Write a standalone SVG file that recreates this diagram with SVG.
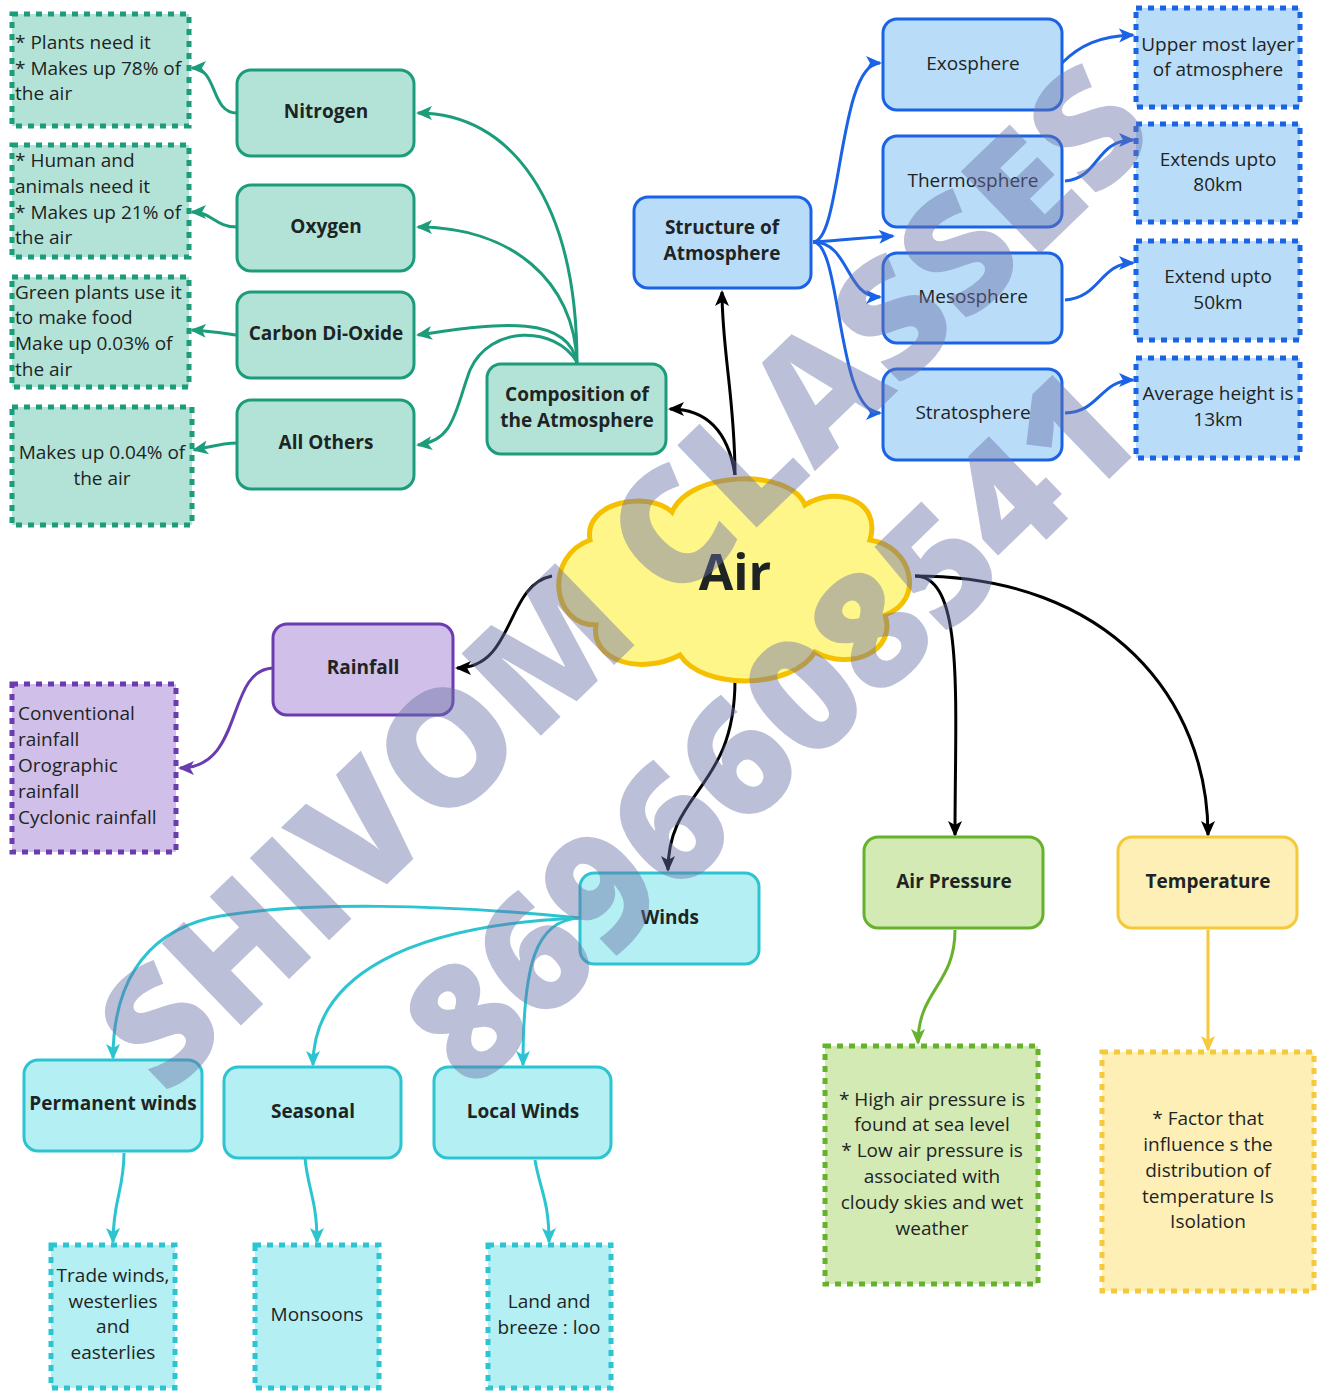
<svg xmlns="http://www.w3.org/2000/svg" width="1319" height="1391" viewBox="0 0 1319 1391">
<style>
text{font-family:"Open Sans","Noto Sans","Liberation Sans",sans-serif;fill:#1e2424}
.b{font-weight:700;font-size:19px;text-anchor:middle}
.n{font-size:19px;text-anchor:middle}
.l{font-size:19px}
.teal{fill:#b3e3d7;stroke:#1d9c7b;stroke-width:3}
.blue{fill:#b9dcf8;stroke:#1a62e6;stroke-width:3}
.purp{fill:#d0bfe8;stroke:#6a3cb0;stroke-width:3}
.cyan{fill:#b4eff3;stroke:#2cc4d1;stroke-width:3}
.lime{fill:#d3eab5;stroke:#66b22c;stroke-width:3}
.yel{fill:#fdefb6;stroke:#f5c93a;stroke-width:3}
.dt{stroke-width:5;stroke-dasharray:6 6}
.c{fill:none;stroke-width:3}
.wm{font-family:"Open Sans","Liberation Sans",sans-serif;font-weight:800;font-size:160px;fill:#6a72a8;fill-opacity:0.45;text-anchor:middle}
</style>
<defs>
<marker id="mk" markerUnits="userSpaceOnUse" markerWidth="16" markerHeight="16" refX="14" refY="8" orient="auto"><path d="M0,1 L16,8 L0,15 L4,8 z" fill="#000"/></marker>
<marker id="mt" markerUnits="userSpaceOnUse" markerWidth="16" markerHeight="16" refX="14" refY="8" orient="auto"><path d="M0,1 L16,8 L0,15 L4,8 z" fill="#1d9c7b"/></marker>
<marker id="mb" markerUnits="userSpaceOnUse" markerWidth="16" markerHeight="16" refX="14" refY="8" orient="auto"><path d="M0,1 L16,8 L0,15 L4,8 z" fill="#1a62e6"/></marker>
<marker id="mp" markerUnits="userSpaceOnUse" markerWidth="16" markerHeight="16" refX="14" refY="8" orient="auto"><path d="M0,1 L16,8 L0,15 L4,8 z" fill="#6a3cb0"/></marker>
<marker id="mc" markerUnits="userSpaceOnUse" markerWidth="16" markerHeight="16" refX="14" refY="8" orient="auto"><path d="M0,1 L16,8 L0,15 L4,8 z" fill="#2cc4d1"/></marker>
<marker id="ml" markerUnits="userSpaceOnUse" markerWidth="16" markerHeight="16" refX="14" refY="8" orient="auto"><path d="M0,1 L16,8 L0,15 L4,8 z" fill="#66b22c"/></marker>
<marker id="my" markerUnits="userSpaceOnUse" markerWidth="16" markerHeight="16" refX="14" refY="8" orient="auto"><path d="M0,1 L16,8 L0,15 L4,8 z" fill="#f5c93a"/></marker>
</defs>
<rect width="1319" height="1391" fill="#fff"/>

<g id="connectors">
<path class="c" stroke="#1d9c7b" d="M577,364 C577,200 510,113 418,113" marker-end="url(#mt)"/>
<path class="c" stroke="#1d9c7b" d="M577,364 C575,280 510,227 418,227" marker-end="url(#mt)"/>
<path class="c" stroke="#1d9c7b" d="M577,364 C570,315 500,322 418,335" marker-end="url(#mt)"/>
<path class="c" stroke="#1d9c7b" d="M577,362 C555,325 490,325 470,370 C455,410 455,440 418,445" marker-end="url(#mt)"/>
<path class="c" stroke="#1d9c7b" d="M237,113 C210,113 218,68 192,68" marker-end="url(#mt)"/>
<path class="c" stroke="#1d9c7b" d="M237,227 C215,227 212,212 192,212" marker-end="url(#mt)"/>
<path class="c" stroke="#1d9c7b" d="M237,335 C222,333 210,331 192,330" marker-end="url(#mt)"/>
<path class="c" stroke="#1d9c7b" d="M237,443 C222,443 210,447 194,450" marker-end="url(#mt)"/>

<path class="c" stroke="#000" d="M735,475 C735,400 722,350 722,292" marker-end="url(#mk)"/>
<path class="c" stroke="#000" d="M735,475 C728,430 705,409 670,409" marker-end="url(#mk)"/>
<path class="c" stroke="#000" d="M552,576 C505,585 515,668 457,668" marker-end="url(#mk)"/>
<path class="c" stroke="#000" d="M735,680 C735,790 668,790 668,870" marker-end="url(#mk)"/>
<path class="c" stroke="#000" d="M915,576 C965,576 955,700 955,835" marker-end="url(#mk)"/>
<path class="c" stroke="#000" d="M915,576 C1110,576 1208,700 1208,835" marker-end="url(#mk)"/>

<path class="c" stroke="#1a62e6" d="M813,242 C842,242 838,63 880,63" marker-end="url(#mb)"/>
<path class="c" stroke="#1a62e6" d="M813,242 C840,240 860,238 893,236" marker-end="url(#mb)"/>
<path class="c" stroke="#1a62e6" d="M813,242 C850,242 845,297 880,297" marker-end="url(#mb)"/>
<path class="c" stroke="#1a62e6" d="M813,242 C842,242 836,413 880,413" marker-end="url(#mb)"/>
<path class="c" stroke="#1a62e6" d="M1062,63 C1080,45 1100,36 1133,35" marker-end="url(#mb)"/>
<path class="c" stroke="#1a62e6" d="M1065,181 C1100,178 1095,140 1133,140" marker-end="url(#mb)"/>
<path class="c" stroke="#1a62e6" d="M1065,300 C1100,298 1100,263 1133,263" marker-end="url(#mb)"/>
<path class="c" stroke="#1a62e6" d="M1065,413 C1100,412 1100,380 1133,380" marker-end="url(#mb)"/>

<path class="c" stroke="#6a3cb0" d="M273,668 C225,670 245,768 180,768" marker-end="url(#mp)"/>

<path class="c" stroke="#2cc4d1" d="M580,918 C450,905 300,900 210,918 C140,935 113,990 113,1058" marker-end="url(#mc)"/>
<path class="c" stroke="#2cc4d1" d="M580,918 C410,925 313,975 313,1065" marker-end="url(#mc)"/>
<path class="c" stroke="#2cc4d1" d="M580,918 C535,920 523,965 523,1065" marker-end="url(#mc)"/>
<path class="c" stroke="#2cc4d1" d="M124,1153 C124,1190 113,1200 113,1242" marker-end="url(#mc)"/>
<path class="c" stroke="#2cc4d1" d="M305,1158 C308,1190 317,1200 317,1242" marker-end="url(#mc)"/>
<path class="c" stroke="#2cc4d1" d="M535,1160 C540,1190 549,1200 549,1242" marker-end="url(#mc)"/>

<path class="c" stroke="#66b22c" d="M955,930 C955,985 918,990 918,1043" marker-end="url(#ml)"/>
<path class="c" stroke="#f5c93a" d="M1208,930 L1208,1050" marker-end="url(#my)"/>
</g>

<g id="composition">
<rect class="teal" x="487" y="364" width="179" height="90" rx="14"/>
<text class="b" x="577" y="401">Composition of</text>
<text class="b" x="577" y="427">the Atmosphere</text>
</g>
<g id="nitrogen"><rect class="teal" x="237" y="70" width="177" height="86" rx="14"/><text class="b" x="326" y="118">Nitrogen</text></g>
<g id="oxygen"><rect class="teal" x="237" y="185" width="177" height="86" rx="14"/><text class="b" x="326" y="233">Oxygen</text></g>
<g id="co2"><rect class="teal" x="237" y="292" width="177" height="86" rx="14"/><text class="b" x="326" y="340">Carbon Di-Oxide</text></g>
<g id="others"><rect class="teal" x="237" y="400" width="177" height="89" rx="14"/><text class="b" x="326" y="449">All Others</text></g>

<g id="n-note"><rect class="teal dt" x="12" y="14" width="177" height="112"/>
<text class="l" x="15" y="49">* Plants need it</text><text class="l" x="15" y="75">* Makes up 78% of</text><text class="l" x="15" y="100">the air</text></g>
<g id="o-note"><rect class="teal dt" x="12" y="145" width="177" height="112"/>
<text class="l" x="15" y="167">* Human and</text><text class="l" x="15" y="193">animals need it</text><text class="l" x="15" y="219">* Makes up 21% of</text><text class="l" x="15" y="244">the air</text></g>
<g id="c-note"><rect class="teal dt" x="12" y="277" width="177" height="110"/>
<text class="l" x="15" y="299">Green plants use it</text><text class="l" x="15" y="324">to make food</text><text class="l" x="15" y="350">Make up 0.03% of</text><text class="l" x="15" y="376">the air</text></g>
<g id="a-note"><rect class="teal dt" x="12" y="407" width="180" height="118"/>
<text class="n" x="102" y="459">Makes up 0.04% of</text><text class="n" x="102" y="485">the air</text></g>

<g id="structure"><rect class="blue" x="634" y="197" width="177" height="91" rx="14"/>
<text class="b" x="722" y="234">Structure of</text><text class="b" x="722" y="260">Atmosphere</text></g>
<g id="exosphere"><rect class="blue" x="883" y="19" width="179" height="91" rx="14"/><text class="n" x="973" y="70">Exosphere</text></g>
<g id="thermosphere"><rect class="blue" x="883" y="136" width="179" height="91" rx="14"/><text class="n" x="973" y="187">Thermosphere</text></g>
<g id="mesosphere"><rect class="blue" x="883" y="253" width="179" height="90" rx="14"/><text class="n" x="973" y="303">Mesosphere</text></g>
<g id="stratosphere"><rect class="blue" x="883" y="369" width="179" height="91" rx="14"/><text class="n" x="973" y="419">Stratosphere</text></g>
<g id="exo-note"><rect class="blue dt" x="1136" y="8" width="164" height="99"/><text class="n" x="1218" y="51">Upper most layer</text><text class="n" x="1218" y="76">of atmosphere</text></g>
<g id="thermo-note"><rect class="blue dt" x="1136" y="124" width="164" height="98"/><text class="n" x="1218" y="166">Extends upto</text><text class="n" x="1218" y="191">80km</text></g>
<g id="meso-note"><rect class="blue dt" x="1136" y="241" width="164" height="99"/><text class="n" x="1218" y="283">Extend upto</text><text class="n" x="1218" y="309">50km</text></g>
<g id="strato-note"><rect class="blue dt" x="1136" y="358" width="164" height="100"/><text class="n" x="1218" y="400">Average height is</text><text class="n" x="1218" y="426">13km</text></g>

<g id="air">
<path d="M590,540 C583,502 648,490 672,512 C690,470 790,468 805,505 C835,485 882,500 870,540 C912,546 926,600 885,615 C897,650 852,672 815,652 C792,690 702,690 680,655 C640,676 590,660 596,625 C550,625 545,556 590,540 Z" fill="#fff68a" stroke="#f5c000" stroke-width="5"/>
<text x="735" y="590" style="font-weight:700;font-size:50px;text-anchor:middle">Air</text>
</g>

<g id="rainfall"><rect class="purp" x="273" y="624" width="180" height="91" rx="14"/><text class="b" x="363" y="674">Rainfall</text></g>
<g id="rain-note"><rect class="purp dt" x="12" y="684" width="164" height="168"/>
<text class="l" x="18" y="720">Conventional</text><text class="l" x="18" y="746">rainfall</text><text class="l" x="18" y="772">Orographic</text><text class="l" x="18" y="798">rainfall</text><text class="l" x="18" y="824">Cyclonic rainfall</text></g>

<g id="winds"><rect class="cyan" x="580" y="873" width="179" height="91" rx="14"/><text class="b" x="670" y="924">Winds</text></g>
<g id="permanent"><rect class="cyan" x="24" y="1060" width="178" height="91" rx="14"/><text class="b" x="113" y="1110">Permanent winds</text></g>
<g id="seasonal"><rect class="cyan" x="224" y="1067" width="177" height="91" rx="14"/><text class="b" x="313" y="1118">Seasonal</text></g>
<g id="local"><rect class="cyan" x="434" y="1067" width="177" height="91" rx="14"/><text class="b" x="523" y="1118">Local Winds</text></g>
<g id="perm-note"><rect class="cyan dt" x="51" y="1245" width="124" height="143"/>
<text class="n" x="113" y="1282">Trade winds,</text><text class="n" x="113" y="1308">westerlies</text><text class="n" x="113" y="1333">and</text><text class="n" x="113" y="1359">easterlies</text></g>
<g id="seas-note"><rect class="cyan dt" x="255" y="1245" width="124" height="143"/><text class="n" x="317" y="1321">Monsoons</text></g>
<g id="local-note"><rect class="cyan dt" x="488" y="1245" width="123" height="143"/><text class="n" x="549" y="1308">Land and</text><text class="n" x="549" y="1334">breeze : loo</text></g>

<g id="pressure"><rect class="lime" x="864" y="837" width="179" height="91" rx="14"/><text class="b" x="954" y="888">Air Pressure</text></g>
<g id="press-note"><rect class="lime dt" x="825" y="1046" width="213" height="238"/>
<text class="n" x="932" y="1106">* High air pressure is</text><text class="n" x="932" y="1131">found at sea level</text><text class="n" x="932" y="1157">* Low air pressure is</text><text class="n" x="932" y="1183">associated with</text><text class="n" x="932" y="1209">cloudy skies and wet</text><text class="n" x="932" y="1235">weather</text></g>
<g id="temperature"><rect class="yel" x="1118" y="837" width="179" height="91" rx="14"/><text class="b" x="1208" y="888">Temperature</text></g>
<g id="temp-note"><rect class="yel dt" x="1102" y="1052" width="212" height="239"/>
<text class="n" x="1208" y="1125">* Factor that</text><text class="n" x="1208" y="1151">influence s the</text><text class="n" x="1208" y="1177">distribution of</text><text class="n" x="1208" y="1203">temperature Is</text><text class="n" x="1208" y="1228">Isolation</text></g>

<g id="watermark" transform="translate(625,578) rotate(-44)">
<text class="wm" x="0" y="55">SHIVOM CLASSES</text>
<text class="wm" x="0" y="265">8696608541</text>
</g>
</svg>
